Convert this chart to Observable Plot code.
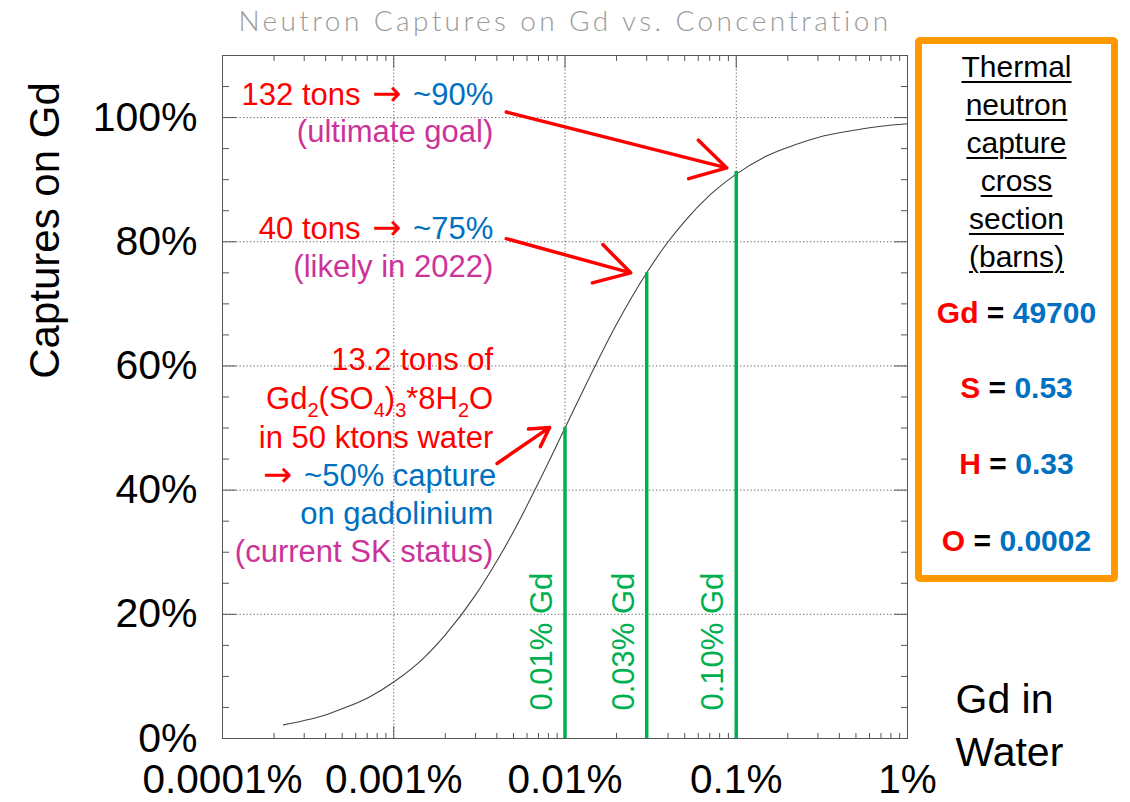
<!DOCTYPE html>
<html><head><meta charset="utf-8">
<script src="https://cdn.jsdelivr.net/npm/d3@7"></script>
<script src="https://cdn.jsdelivr.net/npm/@observablehq/plot@0.6"></script>
<style>
body{margin:0;background:#fff;}
#wrap{position:relative;width:1130px;height:802px;overflow:hidden;font-family:"Liberation Sans",Arial,sans-serif;}
#wrap svg{position:absolute;left:0;top:0;}
#box{position:absolute;left:915px;top:37px;width:203px;height:545px;border:7px solid #ff9900;border-radius:5px;box-sizing:border-box;background:#fff;}
.ln{position:absolute;left:0;right:0;text-align:center;white-space:nowrap;height:38px;line-height:38px;}
.hd{font-size:30px;color:#000;text-decoration:underline;text-decoration-thickness:2px;text-underline-offset:4px;}
.el{font-size:30px;font-weight:bold;}
</style></head><body><div id="wrap"></div>
<script>
// ---------- data ----------
const titleText = "Neutron Captures on Gd vs. Concentration";
const yLabel = "Captures on Gd";
const xLabel = "Gd in\nWater";
// Gd concentration in water (%) and fraction of captures on Gd (%)
const concPct    = [0.000227, 0.0003, 0.0004, 0.0005, 0.0007, 0.001, 0.0015, 0.002, 0.003, 0.004, 0.005, 0.007, 0.01, 0.015, 0.02, 0.03, 0.04, 0.05, 0.07, 0.1, 0.15, 0.2, 0.3, 0.5, 0.7, 1];
const capturePct = [2.2, 2.9, 3.8, 4.8, 6.5, 9.1, 13.0, 16.7, 23.1, 28.6, 33.3, 41.2, 50.0, 60.0, 66.7, 75.0, 80.0, 83.3, 87.5, 90.9, 93.8, 95.2, 96.8, 98.0, 98.6, 99.0];
// green markers
const markerConc    = [0.01, 0.03, 0.1];
const markerCapture = [50.1, 75.0, 91.3];
const markerLabels  = ["0.01% Gd", "0.03% Gd", "0.10% Gd"];
// axis ticks
const xDecades = [0.0001, 0.001, 0.01, 0.1, 1];
const xGrid = [0.001, 0.01, 0.1];
const yMajor = [0, 20, 40, 60, 80, 100];
const yGrid = [20, 40, 60, 80, 100];
// annotation arrows (from text to curve)
const arrowFromConc = [0.00454, 0.00454, 0.00401];
const arrowFromPct  = [100.9, 80.5, 44.3];
const arrowToConc   = [0.0881, 0.0242, 0.00813];
const arrowToPct    = [91.9, 75.0, 50.1];
// annotation text lines: anchor (right edge) and coloured segments
const annoConc = 0.00381;
const annoPct  = [103.6, 97.6, 82.1, 76.0, 60.9, 54.7, 48.4, 42.3, 36.2, 30.1];
const annoSegs = [
  [["132 tons ", "r"], ["\u2192", "r", "arrow"], [" ~90%", "b", "after"]],
  [["(ultimate goal)", "m"]],
  [["40 tons ", "r"], ["\u2192", "r", "arrow"], [" ~75%", "b", "after"]],
  [["(likely in 2022)", "m"]],
  [["13.2 tons of", "r"]],
  [["Gd", "r"], ["2", "r", "sub"], ["(SO", "r"], ["4", "r", "sub"], [")", "r"], ["3", "r", "sub"], ["*8H", "r"], ["2", "r", "sub"], ["O", "r"]],
  [["in 50 ktons water", "r"]],
  [["\u2192", "r", "arrow"], [" ~50% capture", "b", "after"]],
  [["on gadolinium", "b"]],
  [["(current SK status)", "m"]]
];
// side box
const boxTitle = ["Thermal", "neutron", "capture", "cross", "section", "(barns)"];
const elements = ["Gd", "S", "H", "O"];
const crossSections = ["49700", "0.53", "0.33", "0.0002"];

// ---------- styling ----------
const COL = {r: "#ff0000", b: "#0070c0", m: "#cc3399"};
const FONT = '"Liberation Sans", Arial, sans-serif';

const curve = concPct.map((c, i) => ({c, f: capturePct[i]}));
const markers = markerConc.map((c, i) => ({c, f: markerCapture[i], label: markerLabels[i]}));
const arrows = arrowFromConc.map((c, i) => ({x1: c, y1: arrowFromPct[i], x2: arrowToConc[i], y2: arrowToPct[i]}));
const annos = annoSegs.map((segs, i) => ({c: annoConc, f: annoPct[i], segs, text: segs.map(s => s[0]).join("")}));

const minorX = [];
for (const d of xDecades.slice(0, -1)) for (let k = 2; k <= 9; k++) minorX.push(+(d * k).toPrecision(3));
const minorY = d3.range(5, 110, 5).filter(v => v % 20 !== 0);

const tickCol = "#555";
const chart = Plot.plot({
  width: 1130, height: 802,
  marginLeft: 222, marginRight: 223, marginTop: 55, marginBottom: 64,
  x: {type: "log", domain: [1e-4, 1]},
  y: {domain: [0, 110]},
  style: {fontFamily: FONT, background: "transparent", overflow: "visible"},
  marks: [
    Plot.ruleX(xGrid, {stroke: "#666", strokeDasharray: "1.3,2.2"}),
    Plot.ruleY(yGrid, {stroke: "#666", strokeDasharray: "1.3,2.2"}),
    Plot.frame({stroke: tickCol}),
    // inner ticks on all four sides
    Plot.axisX(minorX, {anchor: "bottom", tickSize: -5, text: null, label: null, color: tickCol}),
    Plot.axisX(xDecades, {anchor: "bottom", tickSize: -12, text: null, label: null, color: tickCol}),
    Plot.axisX(minorX, {anchor: "top", tickSize: -5, text: null, label: null, color: tickCol}),
    Plot.axisX(xDecades, {anchor: "top", tickSize: -12, text: null, label: null, color: tickCol}),
    Plot.axisY(minorY, {anchor: "left", tickSize: -7, text: null, label: null, color: tickCol}),
    Plot.axisY(yMajor, {anchor: "left", tickSize: -14, text: null, label: null, color: tickCol}),
    Plot.axisY(minorY, {anchor: "right", tickSize: -7, text: null, label: null, color: tickCol}),
    Plot.axisY(yMajor, {anchor: "right", tickSize: -14, text: null, label: null, color: tickCol}),
    // tick labels
    Plot.axisX(xDecades, {anchor: "bottom", tickSize: 0, tickPadding: 26, fontSize: 40.5, label: null, color: "#000", tickFormat: d => d + "%"}),
    Plot.axisY(yMajor, {anchor: "left", tickSize: 0, tickPadding: 25, fontSize: 41, label: null, color: "#000", tickFormat: d => d + "%"}),
    // curve and markers
    Plot.line(curve, {x: "c", y: "f", stroke: "#444", strokeWidth: 1.1, curve: "monotone-x"}),
    Plot.ruleX(markers, {x: "c", y1: 0, y2: "f", stroke: "#00b050", strokeWidth: 3.5}),
    Plot.text(markers, {x: "c", text: "label", frameAnchor: "bottom", dy: -28, dx: -23, rotate: -90, textAnchor: "start", lineAnchor: "middle", fontSize: 31, fill: "#00b050"}),
    // annotations
    Plot.arrow(arrows, {x1: "x1", y1: "y1", x2: "x2", y2: "y2", stroke: COL.r, strokeWidth: 3.5, headLength: 17}),
    Plot.text(annos, {x: "c", y: "f", text: "text", textAnchor: "end", lineAnchor: "middle", fontSize: 31, fill: COL.r}),
    // titles
    Plot.text([titleText], {text: d => d, frameAnchor: "top", dy: -33, textAnchor: "middle", lineAnchor: "middle", fontSize: 28, fill: "#9a9a9a", fontWeight: 300, fontFamily: "Lato, 'Open Sans', sans-serif"}),
    Plot.text([yLabel], {text: d => d, frameAnchor: "top-left", dx: -177, dy: 175, rotate: -90, textAnchor: "middle", lineAnchor: "middle", fontSize: 42, fill: "#000"}),
    Plot.text([xLabel], {text: d => d, frameAnchor: "bottom-right", dx: 48, dy: -16, textAnchor: "start", lineAnchor: "middle", lineHeight: 1.29, fontSize: 41, fill: "#000"})
  ]
});
document.getElementById("wrap").appendChild(chart);

// title letter spacing
d3.select(chart).selectAll("text").filter(function () { return this.textContent === titleText; })
  .style("letter-spacing", "3.4px");

// rich text for annotation lines
const byText = new Map(annos.map(a => [a.text, a]));
d3.select(chart).selectAll("text").each(function () {
  const a = byText.get(this.textContent);
  if (!a) return;
  const t = d3.select(this);
  t.text(null);
  let shifted = false;
  for (const [s, c, kind] of a.segs) {
    const sp = t.append("tspan").attr("fill", COL[c]).text(s);
    if (kind === "sub") {
      sp.attr("font-size", 20);
      if (!shifted) { sp.attr("dy", 8); shifted = true; }
    } else {
      if (shifted) { sp.attr("dy", -8); shifted = false; }
      if (kind === "arrow") sp.attr("font-family", "'DejaVu Sans', sans-serif").attr("font-size", 35).attr("dx", 3);
      if (kind === "after") sp.attr("dx", 3);
    }
  }
});

// side box with cross sections
const box = d3.select("#wrap").append("div").attr("id", "box");
const inner = 44; // top of box content (page y)
boxTitle.forEach((w, i) => {
  box.append("div").attr("class", "ln hd").style("top", (67 + 38 * i - 19 - inner) + "px").text(w);
});
const elY = [313, 388, 464, 541];
elements.forEach((e, i) => {
  const d = box.append("div").attr("class", "ln el").style("top", (elY[i] - 19 - inner) + "px");
  d.append("span").style("color", COL.r).text(e);
  d.append("span").style("color", "#000").text(" = ");
  d.append("span").style("color", COL.b).text(crossSections[i]);
});
</script></body></html>
